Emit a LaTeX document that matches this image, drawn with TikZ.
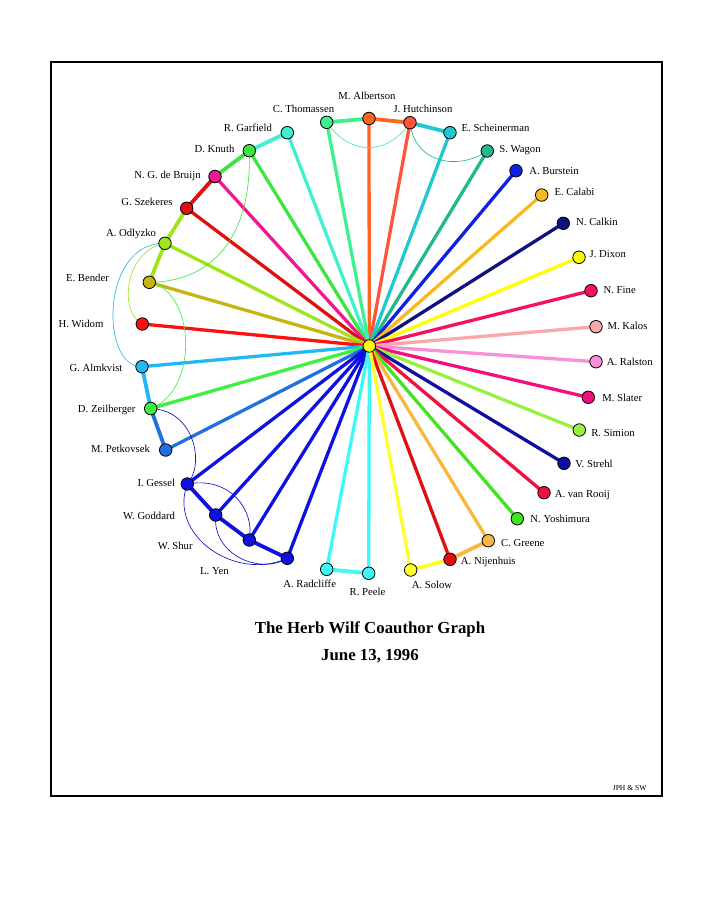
\documentclass[tikz,border=0pt]{standalone}
\usepackage{fontspec}
\setmainfont{Liberation Serif}
\pgfdeclarelayer{background}
\pgfsetlayers{background,main}
\definecolor{cAlb}{RGB}{255,100,32}
\definecolor{cTho}{RGB}{64,240,144}
\definecolor{cHut}{RGB}{255,84,60}
\definecolor{cGar}{RGB}{64,240,208}
\definecolor{cSch}{RGB}{32,200,208}
\definecolor{cKnu}{RGB}{64,228,64}
\definecolor{cWag}{RGB}{32,184,140}
\definecolor{cBru}{RGB}{240,24,144}
\definecolor{cBur}{RGB}{16,32,224}
\definecolor{cSze}{RGB}{224,16,16}
\definecolor{cCal}{RGB}{248,184,32}
\definecolor{cOdl}{RGB}{160,228,32}
\definecolor{cClk}{RGB}{16,16,128}
\definecolor{cBen}{RGB}{200,180,16}
\definecolor{cDix}{RGB}{255,255,0}
\definecolor{cWid}{RGB}{255,16,16}
\definecolor{cFin}{RGB}{248,16,96}
\definecolor{cKal}{RGB}{248,168,168}
\definecolor{cAlm}{RGB}{32,184,240}
\definecolor{cRal}{RGB}{248,144,216}
\definecolor{cZei}{RGB}{64,240,64}
\definecolor{cSla}{RGB}{240,16,128}
\definecolor{cPet}{RGB}{32,112,224}
\definecolor{cSim}{RGB}{152,240,64}
\definecolor{cStr}{RGB}{16,16,160}
\definecolor{cGes}{RGB}{16,16,224}
\definecolor{cRoo}{RGB}{240,16,64}
\definecolor{cYos}{RGB}{64,228,32}
\definecolor{cGre}{RGB}{248,184,64}
\definecolor{cNij}{RGB}{224,16,16}
\definecolor{cRad}{RGB}{64,248,248}
\definecolor{cSol}{RGB}{255,255,48}
\definecolor{cCen}{RGB}{255,255,0}
\definecolor{cThinBlue}{RGB}{16,16,200}
\begin{document}
\begin{tikzpicture}[x=1pt,y=-1pt,
  pn/.style={circle,draw=black,line width=0.8pt,minimum size=12.5pt,inner sep=0pt,fill=#1},
  lab/.style={inner sep=0pt,text height=7pt,text depth=0pt,font=\fontsize{10.7}{12}\selectfont},
  spoke/.style={line width=3.3pt,draw=#1},
  rim/.style={line width=3.8pt,draw=#1},
  thinc/.style={line width=0.65pt,draw=#1}]
\useasboundingbox (0,0) rectangle (705,913);
\node[draw=black,line width=2pt,minimum width=611pt,minimum height=734pt,inner sep=0pt] (frame) at (356.5,429) {};

% people
\node[pn=cCen] (wilf) at (369.3,346) {};
\node[pn=cAlb] (alb) at (369,118.5) {};
\node[pn=cTho] (tho) at (326.7,122.3) {};
\node[pn=cHut] (hut) at (410,122.7) {};
\node[pn=cGar] (gar) at (287.3,132.7) {};
\node[pn=cSch] (sch) at (450,132.7) {};
\node[pn=cKnu] (knu) at (249.3,150.7) {};
\node[pn=cWag] (wag) at (487.3,151) {};
\node[pn=cBru] (bru) at (215,176.5) {};
\node[pn=cBur] (bur) at (516,170.7) {};
\node[pn=cSze] (sze) at (186.7,208.3) {};
\node[pn=cCal] (cal) at (541.7,195) {};
\node[pn=cOdl] (odl) at (165,243.3) {};
\node[pn=cClk] (clk) at (563.3,223.3) {};
\node[pn=cBen] (ben) at (149.3,282.3) {};
\node[pn=cDix] (dix) at (579,257.3) {};
\node[pn=cWid] (wid) at (142.3,324) {};
\node[pn=cFin] (fin) at (591,290.7) {};
\node[pn=cKal] (kal) at (596,326.7) {};
\node[pn=cAlm] (alm) at (142,366.7) {};
\node[pn=cRal] (ral) at (596,361.7) {};
\node[pn=cZei] (zei) at (150.7,408.5) {};
\node[pn=cSla] (sla) at (588.3,397.3) {};
\node[pn=cPet] (pet) at (165.7,450) {};
\node[pn=cSim] (sim) at (579.3,430) {};
\node[pn=cStr] (str) at (564,463.3) {};
\node[pn=cGes] (ges) at (187.3,484) {};
\node[pn=cRoo] (roo) at (544,492.7) {};
\node[pn=cGes] (god) at (215.7,515) {};
\node[pn=cYos] (yos) at (517.3,518.7) {};
\node[pn=cGes] (shu) at (249.3,540) {};
\node[pn=cGre] (gre) at (488.3,540.7) {};
\node[pn=cGes] (yen) at (287.3,558.3) {};
\node[pn=cNij] (nij) at (450,559.3) {};
\node[pn=cRad] (rad) at (326.7,569.3) {};
\node[pn=cRad] (pee) at (368.7,573.3) {};
\node[pn=cSol] (sol) at (410.7,570) {};

% labels
\node[lab] (alb-l) at (367,96) {M. Albertson};
\node[lab] (tho-l) at (303.5,109) {C. Thomassen};
\node[lab] (hut-l) at (423,109) {J. Hutchinson};
\node[lab] (gar-l) at (248,128) {R. Garfield};
\node[lab] (sch-l) at (495.5,128) {E. Scheinerman};
\node[lab] (knu-l) at (214.5,149) {D. Knuth};
\node[lab] (wag-l) at (520,149) {S. Wagon};
\node[lab] (bru-l) at (167.5,175) {N. G. de Bruijn};
\node[lab] (sze-l) at (147,202) {G. Szekeres};
\node[lab] (odl-l) at (131,233) {A. Odlyzko};
\node[lab] (ben-l) at (87.5,277.5) {E. Bender};
\node[lab] (wid-l) at (81,324) {H. Widom};
\node[lab] (alm-l) at (96,368) {G. Almkvist};
\node[lab] (zei-l) at (106.7,409.3) {D. Zeilberger};
\node[lab] (pet-l) at (120.5,449) {M. Petkovsek};
\node[lab] (ges-l) at (156.3,483) {I. Gessel};
\node[lab] (god-l) at (149,515.7) {W. Goddard};
\node[lab] (shu-l) at (175.3,545.7) {W. Shur};
\node[lab] (yen-l) at (214.5,570.7) {L. Yen};
\node[lab] (rad-l) at (309.7,584) {A. Radcliffe};
\node[lab] (pee-l) at (367.5,591.7) {R. Peele};
\node[lab] (bur-l) at (554,170.7) {A. Burstein};
\node[lab] (cal-l) at (574.5,191.7) {E. Calabi};
\node[lab] (clk-l) at (597,221.7) {N. Calkin};
\node[lab] (dix-l) at (607.8,254) {J. Dixon};
\node[lab] (fin-l) at (619.7,290) {N. Fine};
\node[lab] (kal-l) at (627.5,325.7) {M. Kalos};
\node[lab] (ral-l) at (629.8,361.7) {A. Ralston};
\node[lab] (sla-l) at (622.2,397.7) {M. Slater};
\node[lab] (sim-l) at (613,432.7) {R. Simion};
\node[lab] (str-l) at (594,464.3) {V. Strehl};
\node[lab] (roo-l) at (582.3,494) {A. van Rooij};
\node[lab] (yos-l) at (560.2,519.3) {N. Yoshimura};
\node[lab] (gre-l) at (522.8,542.7) {C. Greene};
\node[lab] (nij-l) at (488.3,561.3) {A. Nijenhuis};
\node[lab] (sol-l) at (432,584.7) {A. Solow};

% title
\node[inner sep=0pt,anchor=base,font=\fontsize{16.8}{20}\selectfont\bfseries] (title) at (370,633) {The Herb Wilf Coauthor Graph};
\node[inner sep=0pt,anchor=base,font=\fontsize{16.8}{20}\selectfont\bfseries] (date) at (370,660) {June 13, 1996};
\node[inner sep=0pt,anchor=base,font=\fontsize{7.6}{9}\selectfont] (sig) at (629.7,790) {JPH \& SW};

\begin{pgfonlayer}{background}
% spokes
\foreach \n/\c in {alb/cAlb,tho/cTho,hut/cHut,gar/cGar,sch/cSch,knu/cKnu,wag/cWag,bru/cBru,bur/cBur,sze/cSze,cal/cCal,odl/cOdl,clk/cClk,ben/cBen,dix/cDix,wid/cWid,fin/cFin,kal/cKal,alm/cAlm,ral/cRal,zei/cZei,sla/cSla,pet/cPet,sim/cSim,str/cStr,ges/cGes,roo/cRoo,god/cGes,yos/cYos,shu/cGes,gre/cGre,yen/cGes,nij/cNij,rad/cRad,pee/cRad,sol/cSol}
  \draw[spoke=\c] (wilf.center) -- (\n.center);
% rim edges
\draw[rim=cTho] (tho.center) -- (alb.center);
\draw[rim=cAlb] (alb.center) -- (hut.center);
\draw[rim=cSch] (hut.center) -- (sch.center);
\draw[rim=cGar] (gar.center) -- (knu.center);
\draw[rim=cKnu] (knu.center) -- (bru.center);
\draw[rim=cSze] (bru.center) -- (sze.center);
\draw[rim=cOdl] (sze.center) -- (odl.center);
\draw[rim=cOdl] (odl.center) -- (ben.center);
\draw[rim=cAlm] (alm.center) -- (zei.center);
\draw[rim=cPet] (zei.center) -- (pet.center);
\draw[rim=cGes] (ges.center) -- (god.center);
\draw[rim=cGes] (god.center) -- (shu.center);
\draw[rim=cGes] (shu.center) -- (yen.center);
\draw[rim=cRad] (rad.center) -- (pee.center);
\draw[rim=cSol] (sol.center) -- (nij.center);
\draw[rim=cGre] (nij.center) -- (gre.center);
% thin curved edges
\draw[thinc=cTho] (tho.center) .. controls (350,156) and (387,156) .. (hut.center);
\draw[thinc=cWag] (hut.center) .. controls (415,165) and (460,170) .. (wag.center);
\draw[thinc=cKnu] (knu.center) .. controls (252,240) and (210,282) .. (ben.center);
\draw[thinc=cOdl] (odl.center) .. controls (125,250) and (118,312) .. (wid.center);
\draw[thinc=cAlm] (odl.center) .. controls (100,242) and (100,368) .. (alm.center);
\draw[thinc=cZei] (ben.center) .. controls (195,290) and (200,390) .. (zei.center);
\draw[thinc=cThinBlue] (zei.center) .. controls (195,410) and (205,465) .. (ges.center);
\draw[thinc=cThinBlue] (ges.center) .. controls (230,476) and (255,510) .. (shu.center);
\draw[thinc=cThinBlue] (ges.center) .. controls (168,535) and (235,582) .. (yen.center);
\draw[thinc=cThinBlue] (god.center) .. controls (212,555) and (260,575) .. (yen.center);
\end{pgfonlayer}
\end{tikzpicture}
\end{document}
